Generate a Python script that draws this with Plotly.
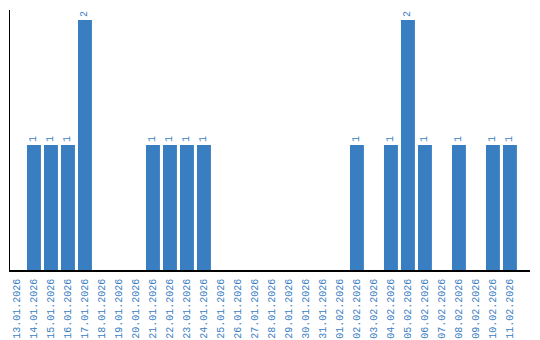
import plotly.graph_objects as go

dates = ["13.01.2026", "14.01.2026", "15.01.2026", "16.01.2026", "17.01.2026",
         "18.01.2026", "19.01.2026", "20.01.2026", "21.01.2026", "22.01.2026",
         "23.01.2026", "24.01.2026", "25.01.2026", "26.01.2026", "27.01.2026",
         "28.01.2026", "29.01.2026", "30.01.2026", "31.01.2026", "01.02.2026",
         "02.02.2026", "03.02.2026", "04.02.2026", "05.02.2026", "06.02.2026",
         "07.02.2026", "08.02.2026", "09.02.2026", "10.02.2026", "11.02.2026"]
counts = [0, 1, 1, 1, 2, 0, 0, 0, 1, 1, 1, 1, 0, 0, 0, 0, 0, 0, 0, 0,
          1, 0, 1, 2, 1, 0, 1, 0, 1, 1]

BLUE = "#3a7ec2"
FONT = "Liberation Mono"
labels = [str(v) if v > 0 else "" for v in counts]

fig = go.Figure(go.Bar(
    x=list(range(len(dates))), y=counts,
    marker=dict(color=BLUE, line=dict(width=0)),
    text=labels, textposition="outside", textangle=-90,
    textfont=dict(family=FONT, size=10, color=BLUE),
    cliponaxis=False,
))
fig.update_layout(
    width=540, height=340,
    margin=dict(l=10, r=10, t=10, b=70),
    paper_bgcolor="white", plot_bgcolor="white",
    bargap=0.18, showlegend=False,
    xaxis=dict(
        tickmode="array", tickvals=list(range(len(dates))), ticktext=dates,
        tickangle=-90, range=[-0.41, 30.18], automargin=False,
        tickfont=dict(family=FONT, size=10, color=BLUE),
        ticklabelstandoff=3,
        showgrid=False, zeroline=False, showline=True, linecolor="black",
        linewidth=1.5, ticks="",
    ),
    yaxis=dict(
        range=[0, 2.08], showticklabels=False, showgrid=False, zeroline=False,
        showline=True, linecolor="black", linewidth=1, ticks="", automargin=False,
    ),
)
fig.write_html("out.html")
